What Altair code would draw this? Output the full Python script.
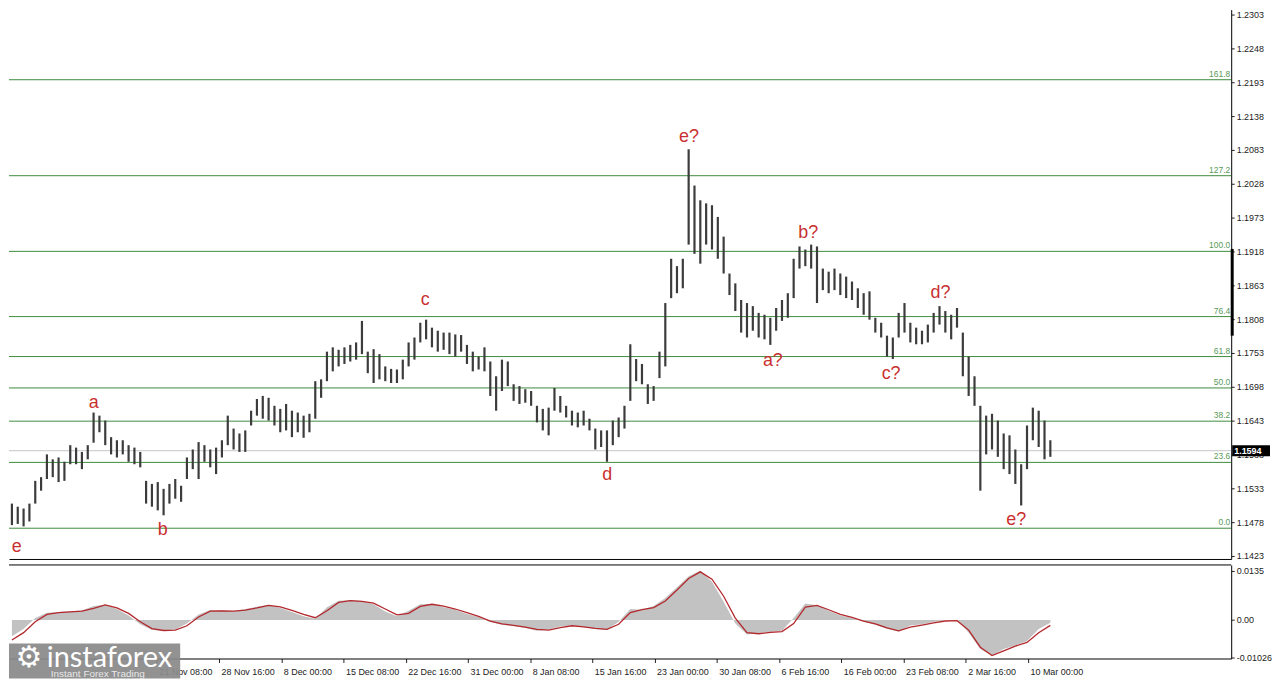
import altair as alt
import pandas as pd

# ---------------- data (EUR/USD, H4 chart, sampled as 12h bars) ----------------
highs = [1.1508, 1.1503, 1.1500, 1.1508, 1.1545, 1.1551, 1.1588, 1.1580, 1.1583, 1.1576,
         1.1603, 1.1599, 1.1592, 1.1603, 1.1656, 1.1651, 1.1643, 1.1616, 1.1611, 1.1611,
         1.1603, 1.1599, 1.1592, 1.1545, 1.1540, 1.1543, 1.1532, 1.1540, 1.1548, 1.1537,
         1.1583, 1.1596, 1.1608, 1.1603, 1.1596, 1.1599, 1.1611, 1.1651, 1.1630, 1.1622,
         1.1627, 1.1659, 1.1678, 1.1683, 1.1680, 1.1667, 1.1662, 1.1670, 1.1659, 1.1656,
         1.1651, 1.1654, 1.1707, 1.1710, 1.1755, 1.1762, 1.1758, 1.1762, 1.1766, 1.1770,
         1.1805, 1.1755, 1.1759, 1.1751, 1.1731, 1.1727, 1.1726, 1.1742, 1.1770, 1.1778,
         1.1802, 1.1807, 1.1794, 1.1789, 1.1786, 1.1786, 1.1783, 1.1782, 1.1766, 1.1755,
         1.1747, 1.1762, 1.1739, 1.1715, 1.1742, 1.1739, 1.1702, 1.1699, 1.1694, 1.1691,
         1.1667, 1.1662, 1.1664, 1.1696, 1.1683, 1.1667, 1.1659, 1.1656, 1.1659, 1.1646,
         1.1630, 1.1627, 1.1627, 1.1643, 1.1648, 1.1667, 1.1767, 1.1743, 1.1735, 1.1702,
         1.1699, 1.1755, 1.1834, 1.1906, 1.1894, 1.1906, 1.2084, 1.2025, 1.2001, 1.1996,
         1.1993, 1.1974, 1.1942, 1.1882, 1.1866, 1.1839, 1.1834, 1.1829, 1.1818, 1.1815,
         1.1810, 1.1826, 1.1839, 1.1850, 1.1906, 1.1926, 1.1921, 1.1929, 1.1926, 1.1890,
         1.1885, 1.1890, 1.1882, 1.1877, 1.1869, 1.1858, 1.1850, 1.1853, 1.1810, 1.1802,
         1.1781, 1.1778, 1.1818, 1.1834, 1.1802, 1.1794, 1.1789, 1.1799, 1.1818, 1.1829,
         1.1821, 1.1815, 1.1826, 1.1786, 1.1747, 1.1715, 1.1667, 1.1651, 1.1654, 1.1643,
         1.1622, 1.1619, 1.1596, 1.1572, 1.1635, 1.1664, 1.1659, 1.1643, 1.1611]

lows = [1.1473, 1.1475, 1.1471, 1.1479, 1.1508, 1.1529, 1.1548, 1.1551, 1.1543, 1.1545,
        1.1572, 1.1572, 1.1564, 1.1580, 1.1607, 1.1624, 1.1603, 1.1588, 1.1583, 1.1588,
        1.1576, 1.1572, 1.1567, 1.1508, 1.1503, 1.1497, 1.1489, 1.1508, 1.1516, 1.1511,
        1.1548, 1.1564, 1.1548, 1.1576, 1.1567, 1.1556, 1.1583, 1.1603, 1.1596, 1.1592,
        1.1592, 1.1635, 1.1651, 1.1646, 1.1643, 1.1635, 1.1624, 1.1627, 1.1616, 1.1624,
        1.1615, 1.1624, 1.1646, 1.1680, 1.1707, 1.1723, 1.1731, 1.1735, 1.1739, 1.1742,
        1.1751, 1.1720, 1.1704, 1.1710, 1.1707, 1.1704, 1.1704, 1.1710, 1.1731, 1.1742,
        1.1770, 1.1775, 1.1762, 1.1755, 1.1758, 1.1751, 1.1747, 1.1755, 1.1735, 1.1723,
        1.1726, 1.1723, 1.1683, 1.1659, 1.1691, 1.1699, 1.1675, 1.1670, 1.1672, 1.1667,
        1.1640, 1.1627, 1.1619, 1.1659, 1.1656, 1.1648, 1.1635, 1.1632, 1.1635, 1.1627,
        1.1596, 1.1600, 1.1576, 1.1603, 1.1616, 1.1630, 1.1675, 1.1707, 1.1702, 1.1670,
        1.1675, 1.1712, 1.1731, 1.1842, 1.1850, 1.1858, 1.1929, 1.1914, 1.1898, 1.1929,
        1.1921, 1.1906, 1.1882, 1.1847, 1.1821, 1.1786, 1.1778, 1.1789, 1.1778, 1.1775,
        1.1766, 1.1789, 1.1805, 1.1810, 1.1842, 1.1890, 1.1894, 1.1890, 1.1834, 1.1855,
        1.1850, 1.1855, 1.1847, 1.1842, 1.1839, 1.1826, 1.1815, 1.1807, 1.1786, 1.1778,
        1.1747, 1.1743, 1.1778, 1.1786, 1.1770, 1.1767, 1.1767, 1.1770, 1.1786, 1.1799,
        1.1786, 1.1775, 1.1794, 1.1715, 1.1683, 1.1667, 1.1529, 1.1588, 1.1596, 1.1584,
        1.1564, 1.1556, 1.1540, 1.1505, 1.1564, 1.1611, 1.1600, 1.1580, 1.1584]

macd_hist = [-0.0045, -0.0025, 0.0005, 0.0020, 0.0022, 0.0024, 0.0026, 0.0038, 0.0042, 0.0030,
             0.0012, -0.0012, -0.0028, -0.0030, -0.0026, -0.0010, 0.0015, 0.0027, 0.0026, 0.0024,
             0.0030, 0.0036, 0.0042, 0.0033, 0.0022, 0.0010, 0.0003, 0.0035, 0.0053, 0.0054,
             0.0052, 0.0043, 0.0023, 0.0010, 0.0025, 0.0043, 0.0044, 0.0035, 0.0028, 0.0016,
             0.0008, -0.0006, -0.0013, -0.0017, -0.0022, -0.0030, -0.0026, -0.0018, -0.0015, -0.0020,
             -0.0025, -0.0027, -0.0005, 0.0030, 0.0028, 0.0038, 0.0060, 0.0090, 0.0120, 0.0136,
             0.0105, 0.0050, -0.0010, -0.0040, -0.0036, -0.0033, -0.0030, 0.0005, 0.0045, 0.0040,
             0.0025, 0.0012, 0.0005, -0.0005, -0.0013, -0.0024, -0.0032, -0.0015, -0.0012, -0.0006,
             -0.0001, 0.0000, -0.0035, -0.0080, -0.0098, -0.0080, -0.0070, -0.0058, -0.0025, -0.0008]

macd_signal = [-0.0055, -0.0035, -0.0005, 0.0015, 0.0020, 0.0022, 0.0024, 0.0032, 0.0041, 0.0033,
               0.0018, -0.0005, -0.0024, -0.0029, -0.0028, -0.0016, 0.0008, 0.0024, 0.0025, 0.0024,
               0.0027, 0.0033, 0.0040, 0.0036, 0.0026, 0.0015, 0.0006, 0.0025, 0.0048, 0.0053,
               0.0051, 0.0046, 0.0030, 0.0014, 0.0018, 0.0037, 0.0043, 0.0038, 0.0030, 0.0020,
               0.0010, -0.0003, -0.0011, -0.0015, -0.0020, -0.0026, -0.0028, -0.0021, -0.0016, -0.0019,
               -0.0023, -0.0026, -0.0012, 0.0020, 0.0028, 0.0034, 0.0052, 0.0082, 0.0114, 0.0132,
               0.0112, 0.0065, 0.0005, -0.0035, -0.0038, -0.0034, -0.0032, -0.0010, 0.0035, 0.0040,
               0.0028, 0.0015, 0.0007, -0.0003, -0.0011, -0.0022, -0.0030, -0.0020, -0.0014, -0.0008,
               -0.0003, -0.0002, -0.0028, -0.0075, -0.0098, -0.0085, -0.0072, -0.0062, -0.0035, -0.0015]

fib_names = ["161.8", "127.2", "100.0", "76.4", "61.8", "50.0", "38.2", "23.6", "0.0"]
fib_prices = [1.2197, 1.2041, 1.1918, 1.1812, 1.1747, 1.1696, 1.1642, 1.1575, 1.1468]

wave_labels = ["e", "a", "b", "c", "d", "e?", "a?", "b?", "c?", "d?", "e?"]
wave_t = [4, 43.6, 79, 214, 307.6, 349.7, 392.8, 411, 453.6, 479, 518]
wave_price = [1.1438, 1.1672, 1.1465, 1.1839, 1.1554, 1.2104, 1.1739, 1.1948, 1.1718, 1.1850, 1.1481]

price_ticks = [1.2303, 1.2248, 1.2193, 1.2138, 1.2083, 1.2028, 1.1973, 1.1918, 1.1863,
               1.1808, 1.1753, 1.1698, 1.1643, 1.1588, 1.1533, 1.1478, 1.1423]
current_price = [1.1594]
axis_marker = [1.1781, 1.1922]

x_tick_pos = [12, 44, 76, 108, 140, 172, 204, 236, 268, 300, 332, 364, 396, 428, 460, 492, 524]
x_tick_labels = ["", "", "21 Nov 08:00", "28 Nov 16:00", "8 Dec 00:00",
                 "15 Dec 08:00", "22 Dec 16:00", "31 Dec 00:00", "8 Jan 08:00", "15 Jan 16:00",
                 "23 Jan 00:00", "30 Jan 08:00", "6 Feb 16:00", "16 Feb 00:00", "23 Feb 08:00",
                 "2 Mar 16:00", "10 Mar 00:00"]
macd_tick_vals = [0.0135, 0.0, -0.01026]
macd_tick_labels = ["0.0135", "0.00", "-0.01026"]

# ---------------- layout ----------------
W = 1228
H_MAIN = 552
H_MACD = 94
X_MAX = 628.5
FONT = "Liberation Sans"

bars_df = pd.DataFrame({"t": [3 * i + 1.5 for i in range(len(highs))], "high": highs, "low": lows})
macd_df = pd.DataFrame({"t": [6 * k + 1.5 for k in range(len(macd_hist))],
                        "hist": macd_hist, "signal": macd_signal})
fib_df = pd.DataFrame({"name": fib_names, "price": fib_prices})
wave_df = pd.DataFrame({"label": wave_labels, "t": wave_t, "price": wave_price})
cur_df = pd.DataFrame({"price": current_price, "txt": ["%.4f" % p for p in current_price]})
marker_df = pd.DataFrame({"lo": [axis_marker[0]], "hi": [axis_marker[1]]})

xscale = alt.Scale(domain=[0, X_MAX], nice=False, zero=False)
yscale = alt.Scale(domain=[1.1418, 1.2311], nice=False, zero=False)
mscale = alt.Scale(domain=[-0.0106, 0.0151], nice=False, zero=False)

x_main_axis = alt.Axis(labels=False, ticks=False, domain=True, domainColor="black",
                       domainWidth=1, grid=False, title=None)
y_main_axis = alt.Axis(orient="right", values=price_ticks, format=".4f", labelFontSize=9,
                       labelColor="#222222", labelFont=FONT, tickSize=3, tickColor="#222222",
                       domainColor="black", grid=False, title=None, labelOverlap=False,
                       labelFlush=False, labelPadding=2)

x_label_expr = " : ".join("datum.value == %s ? '%s'" % (p, l)
                          for p, l in zip(x_tick_pos, x_tick_labels)) + " : ''"
m_label_expr = " : ".join("abs(datum.value - (%s)) < 0.0000001 ? '%s'" % (v, l)
                          for v, l in zip(macd_tick_vals, macd_tick_labels)) + " : ''"

x_macd_axis = alt.Axis(values=x_tick_pos, labelExpr=x_label_expr, labelAlign="left",
                       labelFontSize=9, labelColor="#222222", labelFont=FONT, tickSize=4,
                       tickColor="#222222", domainColor="black", labelOverlap=False,
                       labelFlush=False, labelPadding=5, labelOffset=2, title=None, grid=False)
y_macd_axis = alt.Axis(orient="right", values=macd_tick_vals, labelExpr=m_label_expr,
                       labelFontSize=9, labelColor="#222222", labelFont=FONT, tickSize=3,
                       tickColor="#222222", domainColor="black", grid=False, title=None,
                       labelOverlap=False, labelFlush=False, labelPadding=2)


def XM(f):
    return alt.X(f, type="quantitative", scale=xscale, axis=x_main_axis)


def YM(f):
    return alt.Y(f, type="quantitative", scale=yscale, axis=y_main_axis)


fib_lines = alt.Chart(fib_df).mark_rule(color="#3d8b3d", strokeWidth=1).encode(y=YM("price"))
cur_line = alt.Chart(cur_df).mark_rule(color="#c6c6c6", strokeWidth=1).encode(y=YM("price"))
ohlc = alt.Chart(bars_df).mark_rule(color="#3c3c3c", strokeWidth=2.2).encode(
    x=XM("t"), y=YM("low"), y2="high:Q")
fib_text = alt.Chart(fib_df).mark_text(align="right", baseline="bottom", dy=-1, fontSize=8.5,
                                       color="#5a9a5a", font=FONT).encode(
    x=alt.value(W - 1), y=YM("price"), text="name:N")
waves = alt.Chart(wave_df).mark_text(fontSize=18, color="#c93030", font=FONT,
                                     baseline="middle").encode(
    x=XM("t"), y=YM("price"), text="label:N")
marker = alt.Chart(marker_df).mark_rule(color="black", strokeWidth=3).encode(
    x=alt.value(W + 1), y=YM("lo"), y2="hi:Q")
tag_bg = alt.Chart(cur_df).mark_tick(orient="horizontal", size=38, thickness=11,
                                     color="black", opacity=1).encode(
    x=alt.value(W + 20), y=YM("price"))
tag_txt = alt.Chart(cur_df).mark_text(align="left", baseline="middle", fontSize=9,
                                      color="white", font=FONT, fontWeight="bold").encode(
    x=alt.value(W + 3), y=YM("price"), text="txt:N")

main = alt.layer(fib_lines, cur_line, ohlc, fib_text, waves, marker, tag_bg, tag_txt).properties(
    width=W, height=H_MAIN)


def XB(f):
    return alt.X(f, type="quantitative", scale=xscale, axis=x_macd_axis)


def YB(f):
    return alt.Y(f, type="quantitative", scale=mscale, axis=y_macd_axis)


hist_area = alt.Chart(macd_df).mark_area(color="#c2c2c2").encode(
    x=XB("t"), y=YB("hist"), y2=alt.datum(0))
sig_line = alt.Chart(macd_df).mark_line(color="#b3282d", strokeWidth=1.3).encode(
    x=XB("t"), y=YB("signal"))
top_border = alt.Chart(pd.DataFrame({"a": [1]})).mark_rule(color="black", strokeWidth=1).encode(
    x=alt.value(0), x2=alt.value(W), y=alt.value(0))

logo_bg = alt.Chart(pd.DataFrame({"a": [1]})).mark_rect(color="#8a8a8a", opacity=0.93).encode(
    x=alt.value(0), x2=alt.value(172), y=alt.value(79), y2=alt.value(114))
logo_gear = alt.Chart(pd.DataFrame({"t": ["\u2699"]})).mark_text(
    fontSize=30, color="white", font="DejaVu Sans", baseline="middle", align="center").encode(
    x=alt.value(20), y=alt.value(94), text="t:N")
logo_name = alt.Chart(pd.DataFrame({"t": ["instaforex"]})).mark_text(
    fontSize=29, color="white", font="Lato", baseline="alphabetic", align="left").encode(
    x=alt.value(38), y=alt.value(103), text="t:N")
logo_sub = alt.Chart(pd.DataFrame({"t": ["Instant Forex Trading"]})).mark_text(
    fontSize=10, color="#e8e8e8", font=FONT, baseline="alphabetic", align="left").encode(
    x=alt.value(42), y=alt.value(113), text="t:N")

macd = alt.layer(hist_area, sig_line, top_border, logo_bg, logo_gear, logo_name,
                 logo_sub).properties(width=W, height=H_MACD)

chart = alt.vconcat(main, macd, spacing=3).properties(
    padding={"left": 0, "top": 0, "right": 0, "bottom": 0},
    background="white",
).configure(font=FONT).configure_view(stroke=None)

chart.save("out.html", embed_options={"renderer": "svg", "actions": False})
